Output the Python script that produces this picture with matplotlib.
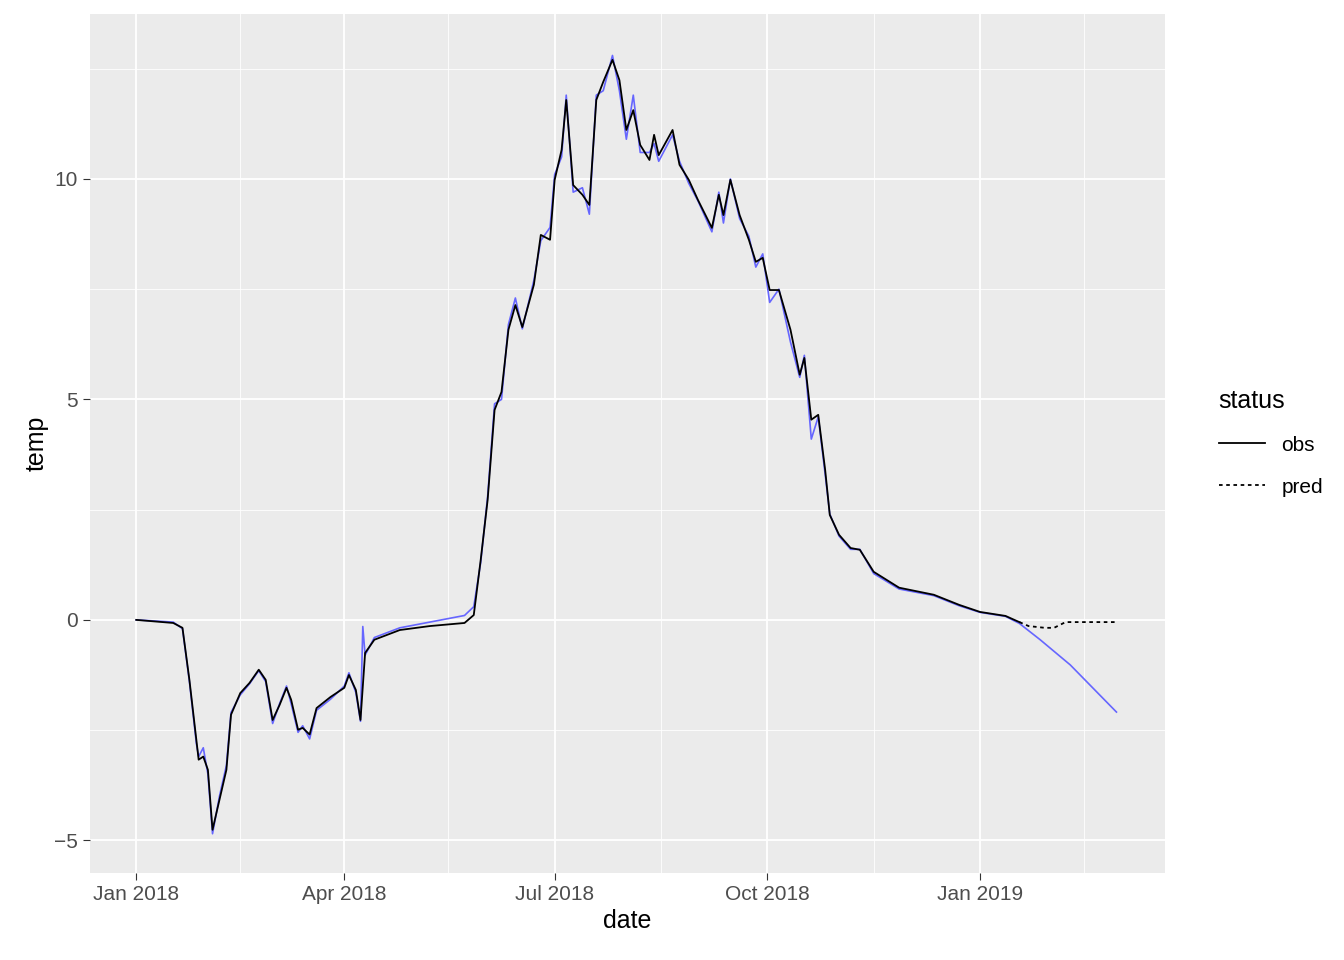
import numpy as np
import matplotlib.pyplot as plt
import matplotlib.dates as mdates
from matplotlib.lines import Line2D

start = np.datetime64('2018-01-01')

# observed series (days since 2018-01-01, temp)
obs_day = [0, 16, 20, 23, 26, 27, 29, 31, 33, 36, 39, 41, 45, 49, 53, 56, 59, 62, 65, 67,
           70, 72, 75, 78, 84, 90, 92, 95, 97, 99, 103, 114, 127, 142, 146, 149, 152, 155,
           158, 161, 164, 167, 172, 175, 179, 181, 184, 186, 189, 193, 196, 199, 202, 206,
           209, 212, 215, 218, 222, 224, 226, 232, 235, 239, 243, 249, 252, 254, 257, 261,
           265, 268, 271, 274, 278, 283, 287, 289, 292, 295, 298, 300, 304, 309, 313, 319,
           330, 345, 356, 365, 376, 382]
obs_temp = [0, -0.07, -0.18, -1.36, -2.72, -3.17, -3.1, -3.4, -4.76, -4.08, -3.4, -2.15,
            -1.66, -1.43, -1.13, -1.36, -2.27, -1.93, -1.54, -1.81, -2.49, -2.45, -2.6, -2.0,
            -1.75, -1.54, -1.25, -1.59, -2.27, -0.75, -0.45, -0.23, -0.14, -0.07, 0.11, 1.36,
            2.72, 4.76, 5.17, 6.58, 7.14, 6.64, 7.6, 8.73, 8.62, 9.98, 10.66, 11.79, 9.86,
            9.64, 9.41, 11.79, 12.2, 12.7, 12.24, 11.11, 11.56, 10.77, 10.43, 11.0, 10.54,
            11.11, 10.32, 9.98, 9.52, 8.89, 9.64, 9.18, 9.98, 9.18, 8.62, 8.12, 8.21, 7.48,
            7.48, 6.58, 5.56, 5.94, 4.54, 4.65, 3.40, 2.38, 1.93, 1.63, 1.59, 1.09, 0.73,
            0.57, 0.34, 0.18, 0.09, -0.05]

# predicted continuation
pred_day = [382, 386, 393, 397, 402, 424]
pred_temp = [-0.05, -0.14, -0.18, -0.18, -0.05, -0.05]

# second (blue) series: close to obs, with its own tail
blue_day = [0, 16, 20, 23, 26, 27, 29, 31, 33, 36, 39, 41, 45, 49, 53, 56, 59, 62, 65, 67,
            70, 72, 75, 78, 84, 90, 92, 95, 97, 98, 99, 103, 114, 127, 142, 146, 149, 152,
            155, 158, 161, 164, 167, 172, 175, 179, 181, 184, 186, 189, 193, 196, 199, 202,
            206, 209, 212, 215, 218, 222, 224, 226, 232, 235, 239, 243, 249, 252, 254, 257,
            261, 265, 268, 271, 274, 278, 283, 287, 289, 292, 295, 298, 300, 304, 309, 313,
            319, 330, 345, 356, 365, 376, 382, 391, 404, 424]
blue_temp = [0, -0.05, -0.2, -1.4, -2.8, -3.1, -2.9, -3.5, -4.85, -4.0, -3.3, -2.1,
             -1.7, -1.45, -1.15, -1.4, -2.35, -1.9, -1.5, -1.9, -2.55, -2.4, -2.7, -2.05,
             -1.8, -1.5, -1.2, -1.65, -2.3, -0.15, -0.8, -0.4, -0.18, -0.05, 0.1, 0.3, 1.3,
             2.8, 4.9, 5.0, 6.7, 7.3, 6.6, 7.7, 8.6, 8.9, 10.1, 10.5, 11.9, 9.7,
             9.8, 9.2, 11.9, 12.0, 12.8, 12.0, 10.9, 11.9, 10.6, 10.6, 10.8, 10.4,
             11.0, 10.4, 9.9, 9.5, 8.8, 9.7, 9.0, 10.0, 9.1, 8.7, 8.0, 8.3, 7.2,
             7.5, 6.3, 5.5, 6.0, 4.1, 4.6, 3.3, 2.4, 1.9, 1.6, 1.6, 1.05, 0.7,
             0.55, 0.32, 0.17, 0.08, -0.08, -0.45, -1.02, -2.09]

to_date = lambda d: start + np.array(d, dtype='timedelta64[D]')

plt.rcParams['font.family'] = ['Liberation Sans', 'DejaVu Sans']
fig = plt.figure(figsize=(13.44, 9.6), dpi=100)
ax = fig.add_axes([90/1344, 1-873/960, (1165-90)/1344, (873-14)/960])
ax.set_facecolor('#EBEBEB')
for s in ax.spines.values():
    s.set_visible(False)

ax.plot(to_date(blue_day), blue_temp, color='#6666FF', lw=1.2, zorder=3)
ax.plot(to_date(obs_day), obs_temp, color='black', lw=1.3, zorder=4)
ax.plot(to_date(pred_day), pred_temp, color='black', lw=1.3, ls=(0, (2, 2)), zorder=4)

ax.set_xlim(start - np.timedelta64(20, 'D'), start + np.timedelta64(445, 'D'))
ax.set_ylim(-5.74, 13.74)

majors = [np.datetime64(d) for d in ['2018-01-01', '2018-04-01', '2018-07-01', '2018-10-01', '2019-01-01']]
ax.set_xticks(majors)
ax.set_xticklabels(['Jan 2018', 'Apr 2018', 'Jul 2018', 'Oct 2018', 'Jan 2019'])
ax.set_xticks([start + np.timedelta64(d, 'D') for d in [45, 135, 227, 319, 410]], minor=True)
ax.set_yticks([-5, 0, 5, 10])
ax.set_yticks([-2.5, 2.5, 7.5, 12.5], minor=True)
ax.grid(which='major', color='white', lw=1.3)
ax.grid(which='minor', color='white', lw=0.6)
ax.set_axisbelow(True)
ax.tick_params(which='major', length=5, color='#333333', labelsize=15, labelcolor='#4D4D4D')
ax.tick_params(which='minor', length=0)
ax.set_xlabel('date', fontsize=18)
ax.set_ylabel('temp', fontsize=18)

handles = [Line2D([], [], color='black', lw=1.3),
           Line2D([], [], color='black', lw=1.3, ls=(0, (2, 2)))]
leg = fig.legend(handles, ['obs', 'pred'], title='status', loc='upper left',
                 bbox_to_anchor=(1200/1344, 1-370/960), frameon=False,
                 fontsize=15, title_fontsize=18, handlelength=2.2, labelspacing=1.1)
leg._legend_box.align = 'left'

plt.savefig('out.png', dpi=100)
